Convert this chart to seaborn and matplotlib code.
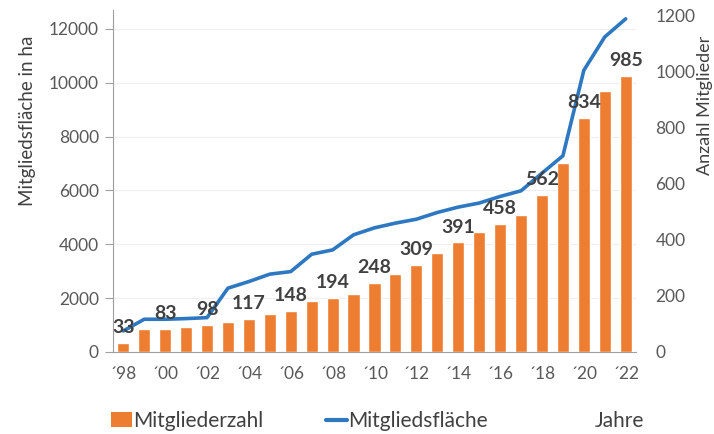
import matplotlib
matplotlib.use("Agg")
import matplotlib.pyplot as plt
import numpy as np
import pandas as pd
import seaborn as sns
from matplotlib.patches import Patch
from matplotlib.lines import Line2D

years = list(range(1998, 2023))
members = [33, 81, 83, 90, 98, 107, 117, 135, 148, 182, 194, 208, 248,
           277, 309, 355, 391, 427, 458, 488, 562, 676, 834, 932, 985]
area_ha = [780, 1215, 1215, 1240, 1275, 2370, 2615, 2890, 2985, 3630, 3790,
           4350, 4610, 4785, 4930, 5180, 5380, 5530, 5775, 5985, 6640, 7285,
           10460, 11700, 12370]
label_years = list(range(1998, 2023, 2))
tick_labels = ["´" + str(y)[2:] for y in label_years]
left_ticks = [0, 2000, 4000, 6000, 8000, 10000, 12000]
right_ticks = [0, 200, 400, 600, 800, 1000, 1200]

df = pd.DataFrame({"Jahr": years, "Mitgliederzahl": members,
                   "Mitgliedsfläche": area_ha})

sns.set_style("white")
plt.rcParams["font.family"] = ["Lato", "DejaVu Sans"]

orange = "#ED7D31"
blue = "#2E78C2"
txt = "#595959"
dark = "#404040"

fig = plt.figure(figsize=(7.14, 4.34), dpi=100)
ax = fig.add_axes([0.158, 0.189, 0.733, 0.788])
ax2 = ax.twinx()

sns.lineplot(data=df, x="Jahr", y="Mitgliedsfläche", ax=ax, color=blue,
             lw=2.6, legend=False)
sns.barplot(data=df, x="Jahr", y="Mitgliederzahl", ax=ax2, color=orange,
            width=0.58, native_scale=True, errorbar=None, saturation=1)

ax.set_xlim(1997.5, 2022.5)
ax.set_ylim(0, 12700)
ax2.set_ylim(0, 1221)

ax.yaxis.grid(True, color="#efefef", lw=0.8)
ax.set_axisbelow(True)

ax.set_yticks(left_ticks)
ax.set_yticklabels([str(t) for t in left_ticks], color=txt, fontsize=12.5)
ax2.set_yticks(right_ticks)
ax2.set_yticklabels([str(t) for t in right_ticks], color=txt, fontsize=12.5)

ax.set_xticks(label_years)
ax.set_xticklabels(tick_labels, color=txt, fontsize=12.5)
ax.set_xticks(np.arange(1997.5, 2023, 1.0), minor=True)
ax.tick_params(axis="x", which="major", length=0, pad=10)
ax.tick_params(axis="x", which="minor", length=5, color="#a0a0a0", direction="out")
ax.tick_params(axis="y", length=6, color="#a0a0a0", direction="out", pad=4)
ax2.tick_params(axis="y", length=0, pad=14)
ax2.set_xlabel("")
ax.set_xlabel("")
ax.set_ylabel("")
ax2.set_ylabel("")

for a in (ax, ax2):
    a.spines["top"].set_visible(False)
    a.spines["right"].set_visible(False)
ax2.spines["left"].set_visible(False)
ax2.spines["bottom"].set_visible(False)
ax.spines["left"].set_color("#a0a0a0")
ax.spines["bottom"].set_color("#a0a0a0")

fig.text(28 / 714, 1 - 121 / 434, "Mitgliedsfläche in ha", rotation=90,
         ha="center", va="center", color=dark, fontsize=13.5)
fig.text(705 / 714, 1 - 105 / 434, "Anzahl Mitglieder", rotation=90,
         ha="center", va="center", color=dark, fontsize=13)

for y, v in zip(years, members):
    if y in label_years:
        ax2.annotate(str(v), (y, v), xytext=(0, 5), textcoords="offset points",
                     ha="center", va="bottom", fontsize=14,
                     fontweight="bold", color=dark)

handles = [Patch(facecolor=orange, edgecolor="none"),
           Line2D([0], [0], color=blue, lw=3)]
fig.legend(handles, ["Mitgliederzahl", "Mitgliedsfläche"], ncol=2,
           loc="center", bbox_to_anchor=(0.4195, 0.030), frameon=False,
           handlelength=1.0, handleheight=0.7, handletextpad=0.08,
           columnspacing=3.0, fontsize=15, labelcolor=dark)
fig.text(619 / 714, 0.030, "Jahre", ha="center", va="center",
         fontsize=15, color=dark)

fig.savefig("out.png", dpi=100)
